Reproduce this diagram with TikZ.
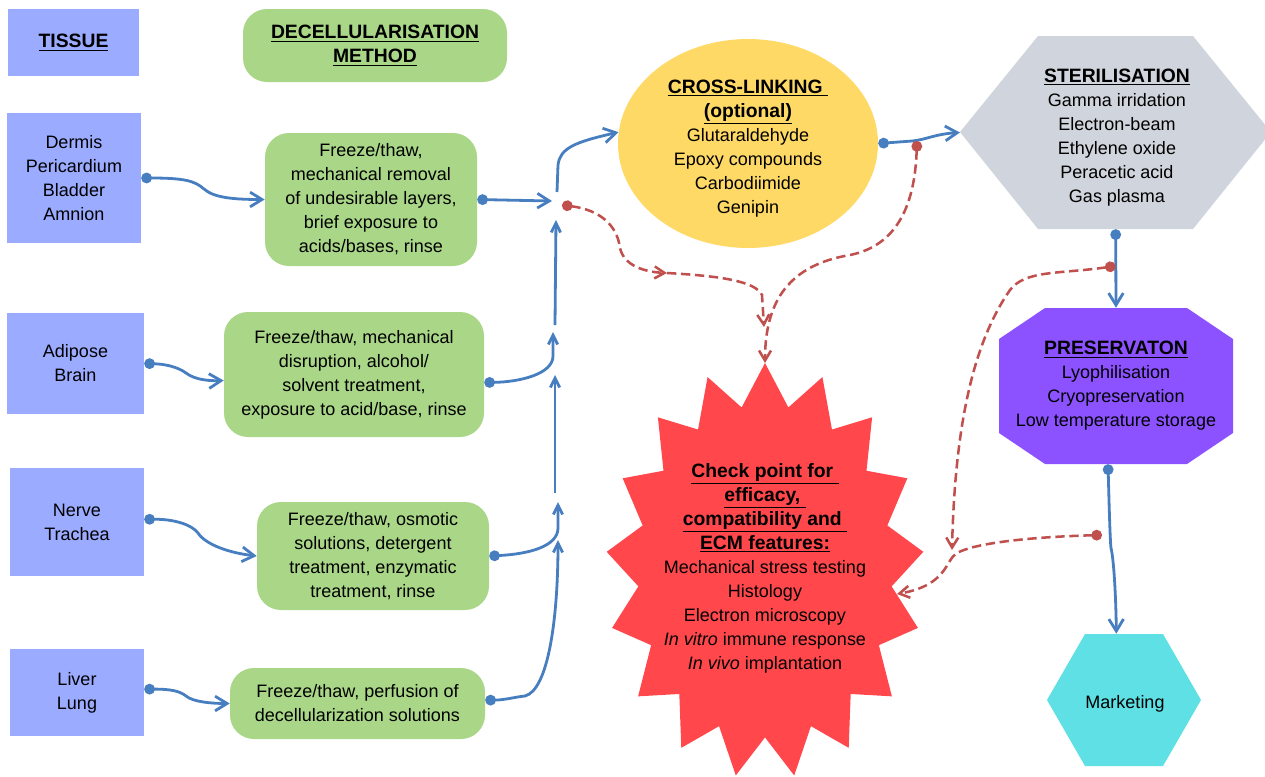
\documentclass[tikz,border=0pt]{standalone}
\usepackage{fontspec}
\setmainfont{Liberation Sans}
\usetikzlibrary{arrows.meta,shapes.geometric}
\definecolor{tissuec}{RGB}{155,171,255}
\definecolor{greenc}{RGB}{169,215,135}
\definecolor{yellowc}{RGB}{255,217,102}
\definecolor{greyc}{RGB}{208,212,220}
\definecolor{purplec}{RGB}{140,82,255}
\definecolor{starc}{RGB}{255,71,76}
\definecolor{cyanc}{RGB}{94,224,228}
\definecolor{bluec}{RGB}{70,126,192}
\definecolor{redc}{RGB}{192,80,77}
\newcommand{\bodyfont}{\fontsize{13.5}{18}\selectfont}
\newcommand{\hdr}[1]{{\fontsize{14.5}{18}\selectfont\bfseries\underline{#1}}}
\newcommand{\topstrut}{\rule{0pt}{18pt}}
\begin{document}
\begin{tikzpicture}[x=0.75pt,y=-0.75pt,
  every node/.style={font=\bodyfont, align=center, inner sep=0pt},
  tissuebox/.style={fill=tissuec},
  methodbox/.style={fill=greenc, rounded corners=18pt},
  bl/.style={draw=bluec, line width=2.1pt, arrows={Circle[length=8pt]-Straight Barb[length=9pt,width=11pt]}},
  blseg/.style={draw=bluec, line width=2.1pt, arrows={-Straight Barb[length=7pt,width=7pt]}},
  blsm/.style={draw=bluec, line width=2.1pt, arrows={Circle[length=8pt]-Straight Barb[length=7pt,width=7pt]}},
  blfree/.style={draw=bluec, line width=2.1pt, arrows={-Straight Barb[length=9pt,width=11pt]}},
  rdd/.style={draw=redc, line width=1.9pt, dash pattern=on 7pt off 3.5pt, arrows={Circle[length=8pt]-Straight Barb[length=7.5pt,width=9pt]}},
  rdn/.style={draw=redc, line width=1.9pt, dash pattern=on 7pt off 3.5pt, arrows={-Straight Barb[length=7.5pt,width=9pt]}},
]
\useasboundingbox (0,0) rectangle (1265,776);

% ---- shapes drawn directly ----
\fill[starc] (765,363) \foreach \k in {1,...,33} { -- ({765+159*(1-0.2*mod(\k,2))*cos(90-\k*180/17)}, {571-208*(1-0.2*mod(\k,2))*sin(90-\k*180/17)}) } -- cycle;
\fill[greyc] (960,132) -- (1038,36) -- (1193,36) -- (1271,132) -- (1193,229) -- (1038,229) -- cycle;
\fill[purplec] (1045,308) -- (1187,308) -- (1233,339) -- (1233,433) -- (1187,464) -- (1045,464) -- (999,433) -- (999,339) -- cycle;
\fill[cyanc] (1085,634) -- (1163,634) -- (1201,700) -- (1163,766) -- (1085,766) -- (1047,700) -- cycle;

% ---- nodes ----
\node[tissuebox, minimum width=98.25pt, minimum height=50.25pt] (tissue) at (73.5,42.5) {\hdr{TISSUE}};
\node[methodbox, minimum width=198pt, minimum height=54.75pt] (method) at (375,45.5) {\hdr{DECELLULARISATION}\\\hdr{METHOD}};
\node[tissuebox, minimum width=100.5pt, minimum height=97.5pt] (dermis) at (74,178) {Dermis\\Pericardium\\Bladder\\Amnion};
\node[tissuebox, minimum width=102.75pt, minimum height=75.75pt] (adipose) at (75.5,363.5) {Adipose\\Brain};
\node[tissuebox, minimum width=100.5pt, minimum height=81pt] (nerve) at (77,522) {Nerve\\Trachea};
\node[tissuebox, minimum width=100.5pt, minimum height=65.25pt] (liver) at (77,692.5) {Liver\\Lung};

\node[methodbox, minimum width=159pt, minimum height=99.75pt] (g1) at (371,199.5) {Freeze/thaw,\\mechanical removal\\of undesirable layers,\\brief exposure to\\acids/bases, rinse};
\node[methodbox, minimum width=195pt, minimum height=93.75pt] (g2) at (354,374.5) {Freeze/thaw, mechanical\\disruption, alcohol/\\solvent treatment,\\exposure to acid/base, rinse};
\node[methodbox, minimum width=174pt, minimum height=81pt] (g3) at (373,556) {Freeze/thaw, osmotic\\solutions, detergent\\treatment, enzymatic\\treatment, rinse};
\node[methodbox, minimum width=191.25pt, minimum height=53.25pt] (g4) at (357.5,703.5) {Freeze/thaw, perfusion of\\decellularization solutions};

\node[ellipse, fill=yellowc, minimum width=195pt, minimum height=155.25pt] (cross) at (748,143.5) {\topstrut\hdr{CROSS-LINKING }\\\hdr{(optional)}\\Glutaraldehyde\\Epoxy compounds\\Carbodiimide\\Genipin};
\node[minimum width=233.25pt, minimum height=144.75pt] (steril) at (1117,132.5) {\topstrut\hdr{STERILISATION}\\Gamma irridation\\Electron-beam\\Ethylene oxide\\Peracetic acid\\Gas plasma};
\node[minimum width=175.5pt, minimum height=117pt] (pres) at (1116,386) {\hdr{PRESERVATON}\\Lyophilisation\\Cryopreservation\\Low temperature storage};
\node[minimum width=115.5pt, minimum height=99pt] (mk) at (1125,700) {\rule{0pt}{16pt}Marketing};
\node (check) at (765,568) {\hdr{Check point for }\\\hdr{efficacy, }\\\hdr{compatibility and }\\\hdr{ECM features:}\\Mechanical stress testing\\Histology\\Electron microscopy\\\textit{In vitro} immune response\\\textit{In vivo} implantation};

% ---- junction coordinates ----
\coordinate (a1) at (552,201);
\coordinate (s1) at (555,325);
\coordinate (t1) at (556,220);
\coordinate (t2) at (553,332);
\coordinate (s2) at (555,493);
\coordinate (t3) at (555,375);
\coordinate (t4) at (558,502);
\coordinate (t5) at (558,540);
\coordinate (hub) at (557,192);
\coordinate (rdot) at (562,205);
\coordinate (ra) at (667,273);
\coordinate (rb) at (764,327);
\coordinate (rc) at (917,141);
\coordinate (rd2) at (1115.5,266);
\coordinate (rdtip) at (952,550);
\coordinate (rd3) at (1102,535);
\coordinate (startop) at (765,363);
\coordinate (starright) at (897,594);

% ---- blue connectors ----
\draw[bl] (dermis.east) .. controls (185,178) and (195,181) .. (204,189) .. controls (214,198) and (235,199.5) .. (g1.west);
\draw[bl] (adipose.east) .. controls (165,364) and (178,367) .. (186,373) .. controls (195,380) and (210,381) .. ([yshift=-4.5pt]g2.west);
\draw[bl] ([yshift=2pt]nerve.east) .. controls (175,519) and (192,525) .. (198,533) .. controls (206,545) and (230,553) .. (g3.west);
\draw[bl] ([yshift=2.5pt]liver.east) .. controls (170,689) and (180,691) .. (186,696) .. controls (193,702) and (212,703.5) .. (g4.west);

\draw[bl] (g1.east) -- (a1);
\draw[blseg] (s1) -- (t1);
\draw[blsm] ([yshift=-6pt]g2.east) .. controls (520,382) and (553,374) .. (553,356) -- (t2);
\draw[blseg] (s2) -- (t3);
\draw[blsm] (g3.east) .. controls (530,554) and (558,546) .. (558,528) -- (t4);
\draw[blsm] ([yshift=2.5pt]g4.east) .. controls (505,700) and (515,697) .. (525,696) .. controls (548,690) and (558,620) .. (t5);
\draw[blfree] (hub) -- (558,165) .. controls (560,148) and (575,142) .. (cross.175);

\draw[bl] (cross.east) -- (912,141) .. controls (925,140) and (935,134) .. ([xshift=-1pt]steril.west);
\draw[bl] ([xshift=-1pt]steril.south) -- (pres.north);
\draw[bl] ([xshift=-6pt]pres.south) .. controls (1109,500) and (1110,540) .. (1111,548) .. controls (1114,560) and (1116,600) .. ([shift={(-6.5pt,0pt)}]mk.north);

% ---- red dashed connectors ----
\draw[rdd] (rdot) .. controls (600,210) and (617,225) .. (620,248) .. controls (624,266) and (645,272) .. (ra);
\draw[rdn] (ra) .. controls (720,276) and (755,281) .. (762,295) -- (rb);
\draw[rdd] (rc) .. controls (915,200) and (900,245) .. (850,255) .. controls (790,265) and (765,300) .. (startop);
\draw[rdd] (rd2) .. controls (1060,274) and (1025,270) .. (1010,290) .. controls (975,340) and (955,420) .. (rdtip);
\draw[rdd] (rd3) .. controls (1030,537) and (975,543) .. (957,553) .. controls (945,560) and (948,585) .. (starright);
\end{tikzpicture}
\end{document}
